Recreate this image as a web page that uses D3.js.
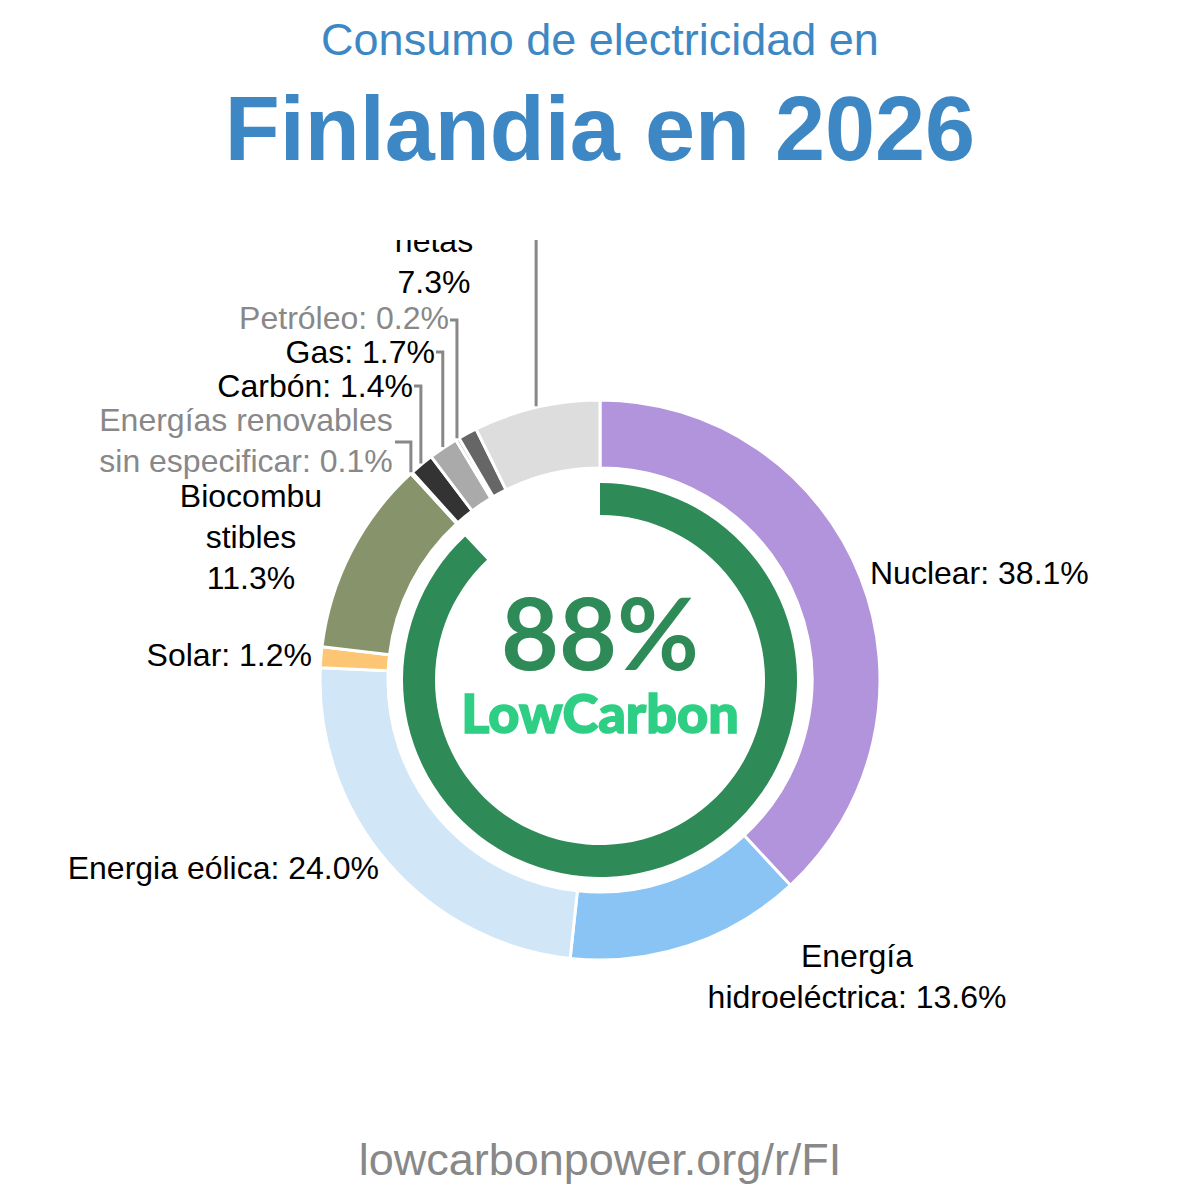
<!DOCTYPE html>
<html><head><meta charset="utf-8">
<script src="https://cdn.jsdelivr.net/npm/d3@7"></script>
<style>
html,body{margin:0;padding:0;background:#fff;}
text{font-family:"Liberation Sans",Arial,sans-serif;}
</style></head>
<body>
<svg id="chart" width="1200" height="1200"></svg>
<script>
// ---- data ----
const categories = ["Nuclear","Energía hidroeléctrica","Energia eólica","Solar","Biocombustibles","Energías renovables sin especificar","Carbón","Gas","Petróleo","Otros","Importaciones netas"];
const values = [38.1, 13.6, 24.0, 1.2, 11.3, 0.1, 1.4, 1.7, 0.2, 1.1, 7.3];
const colors = ["#b294dc","#89c4f4","#d1e6f7","#fdc674","#87946b","#7fbf7f","#333333","#aaaaaa","#888888","#666666","#dddddd"];
const labelLines = [
  ["Nuclear: 38.1%"],
  ["Energía","hidroeléctrica: 13.6%"],
  ["Energia eólica: 24.0%"],
  ["Solar: 1.2%"],
  ["Biocombu","stibles","11.3%"],
  ["Energías renovables","sin especificar: 0.1%"],
  ["Carbón: 1.4%"],
  ["Gas: 1.7%"],
  ["Petróleo: 0.2%"],
  [],
  ["Importaciones","netas","7.3%"]
];
const lowCarbonShare = 88;

// ---- layout (positions/styles) ----
const cx = 600, cy = 680;
const labelLayout = [
  {x:870, y:584, anchor:"start", color:"#000"},
  {x:857, y:967, anchor:"middle", color:"#000"},
  {x:379, y:879, anchor:"end", color:"#000"},
  {x:312, y:666, anchor:"end", color:"#000"},
  {x:251, y:507, anchor:"middle", color:"#000"},
  {x:246, y:431, anchor:"middle", color:"#888", leaderY:442, leaderX0:395},
  {x:413, y:397, anchor:"end", color:"#000", leaderY:386},
  {x:435, y:363, anchor:"end", color:"#000", leaderY:352},
  {x:449, y:329, anchor:"end", color:"#888", leaderY:320},
  null,
  {x:434, y:211, anchor:"middle", color:"#000", leaderY:150, noHoriz:true}
];

const svg = d3.select("#chart");
svg.append("rect").attr("width",1200).attr("height",1200).attr("fill","#fff");

// titles
svg.append("text").attr("x",600).attr("y",55).attr("text-anchor","middle")
  .attr("font-size",45).attr("fill","#3d88c4").text("Consumo de electricidad en");
svg.append("text").attr("x",600).attr("y",160).attr("text-anchor","middle")
  .attr("font-size",90).attr("font-weight","bold").attr("fill","#3d88c4").text("Finlandia en 2026");
svg.append("text").attr("x",600).attr("y",1175).attr("text-anchor","middle")
  .attr("font-size",45).attr("fill","#888").text("lowcarbonpower.org/r/FI");

const defs = svg.append("defs");
defs.append("clipPath").attr("id","clip").append("rect")
  .attr("x",0).attr("y",240).attr("width",1200).attr("height",880);

const g = svg.append("g").attr("clip-path","url(#clip)");

const data = categories.map((c,i)=>({name:c, value:values[i], color:colors[i], lines:labelLines[i], lay:labelLayout[i]}));
const pie = d3.pie().sort(null).value(d=>d.value).startAngle(0).endAngle(2*Math.PI);
const arcs = pie(data);

const arc = d3.arc().innerRadius(212).outerRadius(280);
const gc = g.append("g").attr("transform",`translate(${cx},${cy})`);
gc.selectAll("path.slice").data(arcs).join("path").attr("class","slice")
  .attr("d",arc).attr("fill",d=>d.data.color)
  .attr("stroke","#fff").attr("stroke-width",3).attr("stroke-linejoin","miter");

// low-carbon ring
const ringArc = d3.arc().innerRadius(165).outerRadius(197).startAngle(0)
  .endAngle(2*Math.PI*lowCarbonShare/100);
gc.append("path").attr("d",ringArc()).attr("fill","#2e8b57");

gc.append("text").attr("x",0).attr("y",-10).attr("text-anchor","middle")
  .style("font-family","Lato, 'Open Sans', sans-serif")
  .attr("font-weight","bold").attr("font-size",100).attr("fill","#2e8b57").text(lowCarbonShare+"%");
gc.append("text").attr("x",0).attr("y",53).attr("text-anchor","middle")
  .style("font-family","Lato, 'Open Sans', sans-serif")
  .attr("font-weight",900).attr("font-size",54).attr("fill","#2ecf84")
  .attr("stroke","#2ecf84").attr("stroke-width",1.5).text("LowCarbon");

// labels + leaders
const lineH = 41;
arcs.forEach(a=>{
  const d = a.data, L = d.lay;
  if(!L) return;
  const t = g.append("text").attr("text-anchor",L.anchor).attr("font-size",32).attr("fill",L.color);
  d.lines.forEach((ln,i)=>{
    t.append("tspan").attr("x",L.x).attr("y",L.y+i*lineH).text(ln);
  });
  if(L.leaderY!==undefined){
    const mid = (a.startAngle+a.endAngle)/2;
    const px = cx + 281*Math.sin(mid), py = cy - 281*Math.cos(mid);
    let pts;
    if(L.noHoriz){ pts = [[px,py],[px,L.leaderY]]; }
    else {
      const hx = L.leaderX0 !== undefined ? L.leaderX0 : L.x+1;
      pts = [[px,py],[px,L.leaderY],[hx,L.leaderY]];
    }
    g.append("path").attr("d",d3.line()(pts)).attr("fill","none")
      .attr("stroke","#888").attr("stroke-width",3);
  }
});
</script>
</body></html>
